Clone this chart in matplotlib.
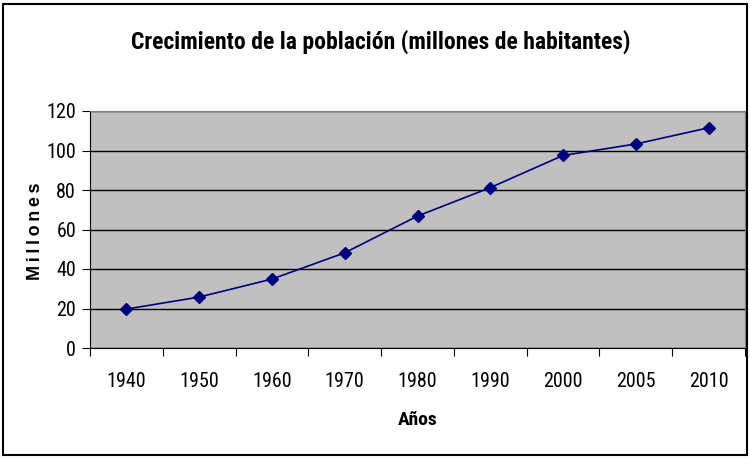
import matplotlib
matplotlib.use("Agg")
import matplotlib.pyplot as plt
from matplotlib.patches import Rectangle

years = ["1940", "1950", "1960", "1970", "1980", "1990", "2000", "2005", "2010"]
population = [19.7, 25.8, 34.9, 48.2, 66.8, 81.2, 97.5, 103.3, 111.5]
yticks = [0, 20, 40, 60, 80, 100, 120]

narrow = ["Roboto Condensed", "Archivo Narrow", "Liberation Sans", "DejaVu Sans"]
narrow_bold = ["Roboto Condensed", "Saira Condensed", "Liberation Sans", "DejaVu Sans"]
plt.rcParams["font.family"] = narrow

fig = plt.figure(figsize=(7.5, 4.58), dpi=100)
fig.patch.set_facecolor("white")
fig.add_artist(Rectangle((3/750, 3/458), 744/750, 451/458, transform=fig.transFigure,
                         fill=False, edgecolor="black", linewidth=1.5))

ax = fig.add_axes([90/750, 1 - 348/458, 655/750, 237/458])
ax.set_facecolor("#C0C0C0")
x = list(range(len(years)))
ax.plot(x, population, color="#000080", linewidth=1.2, marker="D", markersize=6,
        markerfacecolor="#000080", markeredgecolor="#000080", zorder=3)

ax.set_xlim(-0.5, len(years) - 0.5)
ax.set_ylim(0, 120)
ax.set_yticks(yticks)
ax.set_yticklabels([str(v) for v in yticks], fontsize=14.5)
ax.set_xticks([i - 0.5 for i in range(len(years) + 1)])
ax.set_xticklabels([])
ax.set_xticks(x, minor=True)
ax.set_xticklabels(years, minor=True, fontsize=14.5)
ax.tick_params(axis="x", which="minor", length=0, pad=17)
ax.tick_params(axis="x", which="major", length=6, direction="out", color="black")
ax.tick_params(axis="y", length=6, direction="out", pad=4)
ax.grid(axis="y", color="black", linewidth=1)
ax.set_axisbelow(True)
for s in ["top", "right"]:
    ax.spines[s].set_color("#808080")
for s in ["left", "bottom"]:
    ax.spines[s].set_color("black")

fig.text(381/750, 1 - 42/458, "Crecimiento de la población (millones de habitantes)",
         ha="center", va="center", fontsize=17, fontweight="bold", family=narrow_bold)
fig.text(418/750, 1 - 420/458, "Años", ha="center", va="center", fontsize=14,
         fontweight="bold", family=narrow_bold)
fig.text(35/750, 1 - 231/458, "\u2009".join("Millones"), ha="center", va="center", rotation=90,
         fontsize=13, fontweight="bold", family=["Liberation Sans", "DejaVu Sans"])

fig.savefig("out.png", dpi=100)
